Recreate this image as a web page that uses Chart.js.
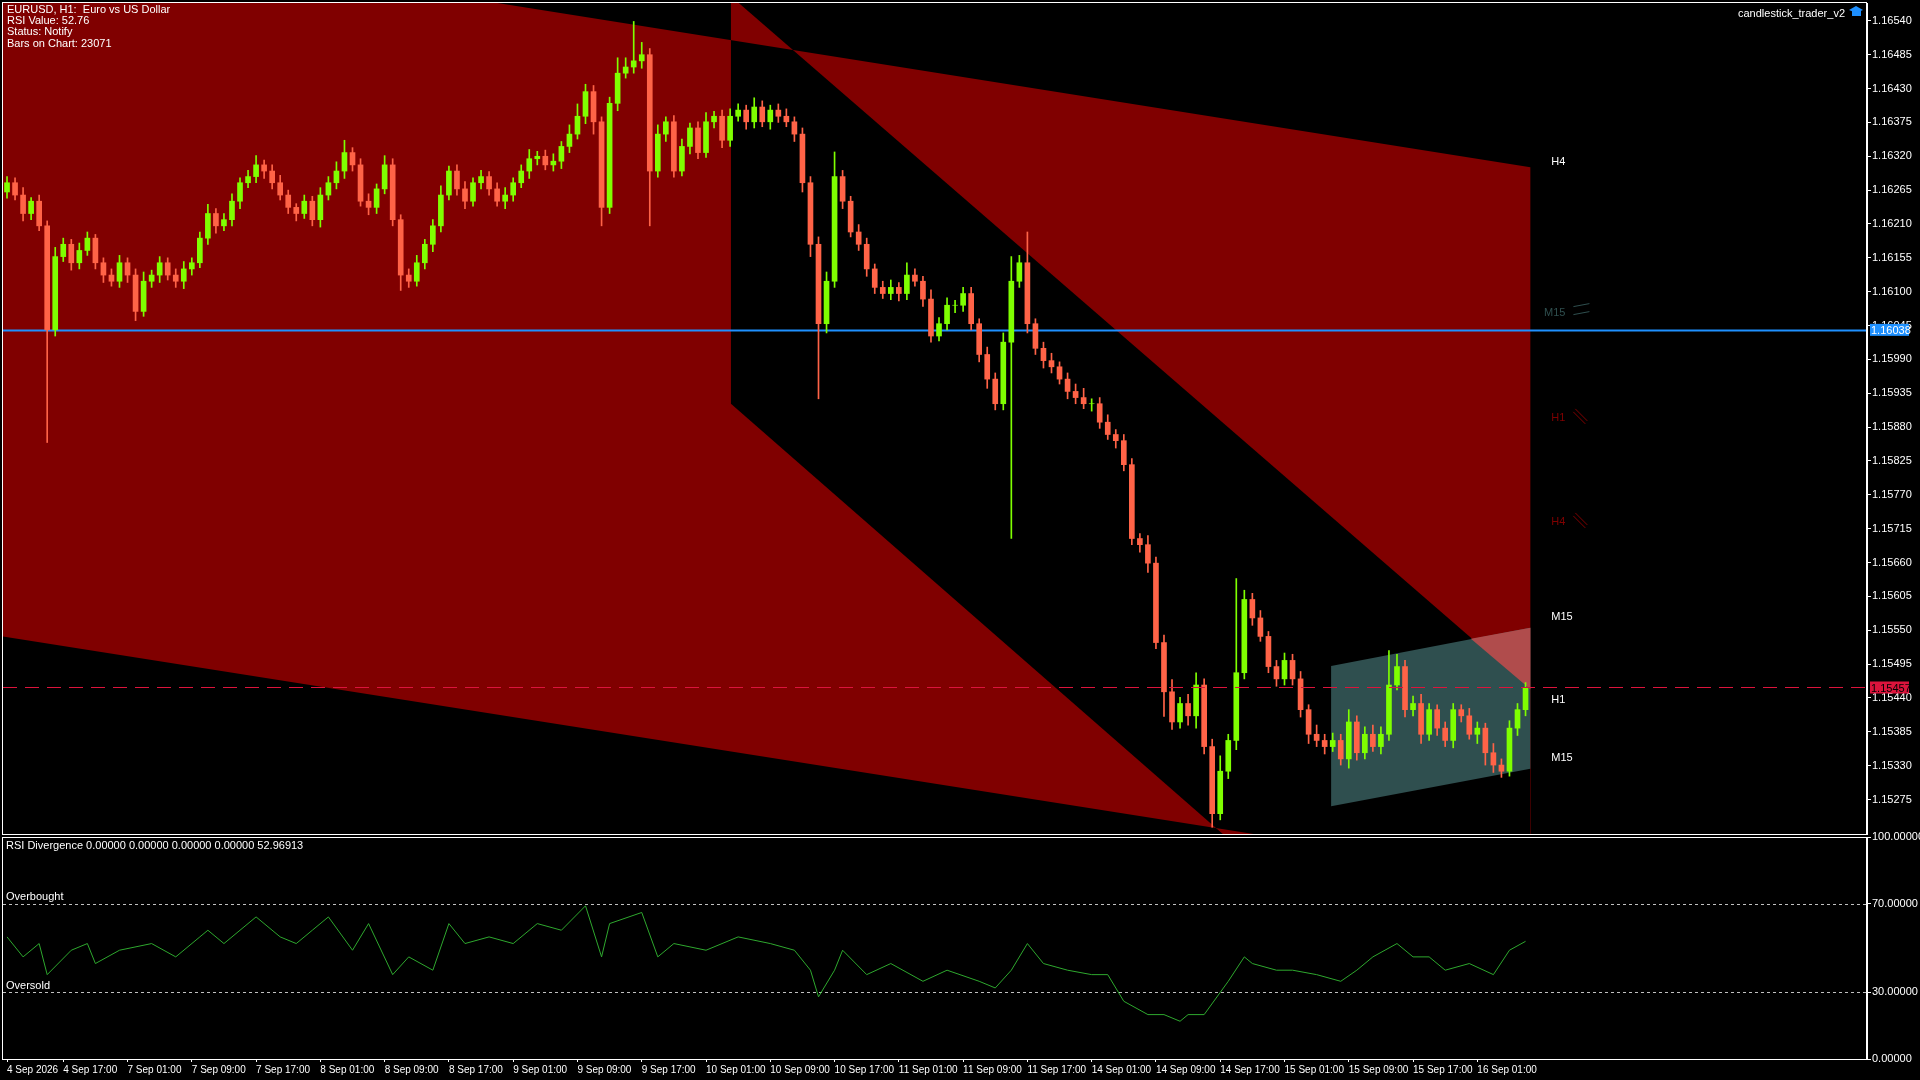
<!DOCTYPE html>
<html>
<head>
<meta charset="utf-8">
<script src="https://cdn.jsdelivr.net/npm/chart.js@4.4.1/dist/chart.umd.min.js"></script>
<style>
  html, body { margin: 0; padding: 0; background: #000; width: 1920px; height: 1080px; overflow: hidden; }
  #mainWrap { position: absolute; left: 0; top: 0; width: 1920px; height: 836px; }
  #rsiWrap { position: absolute; left: 0; top: 830px; width: 1920px; height: 250px; }
</style>
</head>
<body>
<div id="mainWrap"><canvas id="priceChart"></canvas></div>
<div id="rsiWrap"><canvas id="rsiChart"></canvas></div>
<script>
// EURUSD H1 candles, 4 Sep 10:00 -> 16 Sep 07:00
const closes = [
  1.16277,1.16257,1.16227,1.16247,1.16207,1.16038,1.16157,1.16177,1.16147,1.16167,
  1.16187,1.16147,1.16127,1.16117,1.16147,1.16127,1.16068,1.16117,1.16127,1.16147,
  1.16127,1.16117,1.16137,1.16147,1.16187,1.16227,1.16207,1.16217,1.16247,1.16277,
  1.16287,1.16306,1.16296,1.16277,1.16257,1.16237,1.16227,1.16247,1.16217,1.16257,
  1.16277,1.16296,1.16326,1.16306,1.16247,1.16237,1.16267,1.16306,1.16217,1.16127,
  1.16117,1.16147,1.16177,1.16207,1.16257,1.16296,1.16267,1.16247,1.16277,1.16287,
  1.16267,1.16247,1.16257,1.16277,1.16296,1.16316,1.16320,1.16306,1.16312,1.16336,
  1.16356,1.16385,1.16425,1.16376,1.16237,1.16406,1.16455,1.16465,1.16475,1.16485,
  1.16296,1.16356,1.16376,1.16296,1.16336,1.16366,1.16326,1.16376,1.16385,1.16346,
  1.16385,1.16395,1.16376,1.16400,1.16376,1.16395,1.16385,1.16376,1.16356,1.16277,
  1.16177,1.16048,1.16117,1.16287,1.16247,1.16197,1.16177,1.16137,1.16107,1.16097,
  1.16107,1.16097,1.16127,1.16117,1.16088,1.16028,1.16048,1.16078,1.16078,1.16097,
  1.16048,1.15998,1.15958,1.15918,1.16018,1.16117,1.16147,1.16048,1.16008,1.15988,
  1.15978,1.15958,1.15938,1.15928,1.15918,1.15918,1.15888,1.15868,1.15858,1.15819,
  1.15699,1.15689,1.15659,1.15530,1.15450,1.15401,1.15431,1.15411,1.15461,1.15361,
  1.15252,1.15321,1.15371,1.15481,1.15600,1.15570,1.15540,1.15491,1.15471,1.15501,
  1.15471,1.15421,1.15381,1.15371,1.15361,1.15371,1.15341,1.15401,1.15351,1.15381,
  1.15361,1.15381,1.15461,1.15491,1.15421,1.15431,1.15381,1.15421,1.15391,1.15371,
  1.15421,1.15411,1.15381,1.15391,1.15351,1.15331,1.15321,1.15391,1.15421,1.15457
];
const firstOpen = 1.16262;
// upper / lower wick lengths in points
const wickUp = [
  10,8,12,6,10,8,15,10,8,12,10,6,8,10,12,8,10,15,8,10,
  8,10,12,8,10,15,8,10,12,8,10,15,8,10,12,8,6,10,8,12,
  10,15,20,8,10,12,8,15,10,8,10,12,8,10,15,8,10,12,8,10,
  8,10,12,8,10,15,8,10,12,8,15,20,12,10,8,10,25,15,64,20,
  10,15,8,10,12,8,10,15,8,10,12,10,8,15,10,8,10,12,8,10,
  10,12,15,40,10,8,12,10,8,10,12,8,20,10,8,15,10,12,8,10,
  10,8,12,10,15,40,12,50,8,10,12,8,10,12,15,8,10,12,8,10,
  10,8,15,10,12,20,10,15,20,10,12,25,10,153,15,10,12,8,10,12,
  10,12,8,15,10,12,10,20,10,12,15,12,56,20,10,12,15,10,8,10,
  10,8,12,10,8,15,10,12,10,8
];
const wickDn = [
  10,8,12,10,8,183,10,8,12,10,8,10,12,8,10,12,15,8,10,12,
  8,10,12,10,8,10,12,8,10,12,8,10,12,10,8,10,12,8,10,12,
  8,10,12,10,8,12,10,8,10,25,10,8,10,12,10,8,10,12,8,10,
  10,8,12,10,8,12,10,8,10,12,10,8,12,20,30,10,12,8,10,12,
  89,10,12,10,8,12,10,8,10,12,10,8,12,10,8,12,10,8,12,15,
  20,122,15,10,12,8,10,12,10,8,10,12,10,8,12,10,8,10,12,10,
  10,12,15,10,10,319,10,15,10,12,10,8,12,10,8,12,10,8,12,10,
  10,12,15,10,40,12,10,15,20,12,22,10,12,15,10,12,8,10,12,10,
  10,12,15,10,12,8,10,15,12,10,8,12,10,8,12,10,15,10,12,10,
  12,10,8,15,20,12,10,8,12,10
];

const yTickVals = [1.16540,1.16485,1.16430,1.16375,1.16320,1.16265,1.16210,1.16155,1.16100,1.16045,
  1.15990,1.15935,1.15880,1.15825,1.15770,1.15715,1.15660,1.15605,1.15550,1.15495,1.15440,1.15385,1.15330,1.15275];
const timeTickIdx = [0,7,15,23,31,39,47,55,63,71,79,87,95,103,111,119,127,135,143,151,159,167,175,183];
const timeLabels = ['4 Sep 2026','4 Sep 17:00','7 Sep 01:00','7 Sep 09:00','7 Sep 17:00','8 Sep 01:00','8 Sep 09:00',
  '8 Sep 17:00','9 Sep 01:00','9 Sep 09:00','9 Sep 17:00','10 Sep 01:00','10 Sep 09:00','10 Sep 17:00','11 Sep 01:00',
  '11 Sep 09:00','11 Sep 17:00','14 Sep 01:00','14 Sep 09:00','14 Sep 17:00','15 Sep 01:00','15 Sep 09:00','15 Sep 17:00','16 Sep 01:00'];

// RSI (bar index, value)
const rsiIdx = [0,2,4,5,8,10,11,14,18,21,24,25,27,31,34,36,38,40,43,45,48,50,53,55,57,60,63,66,69,72,74,75,79,81,83,87,91,95,98,
  100,101,103,104,107,110,114,117,121,123,125,127,129,132,135,137,139,142,144,146,147,149,152,154,155,158,160,163,166,168,
  170,173,175,177,179,182,185,187,189];
const rsiVal = [55,46,52,38,49,52,43,49,52,46,55,58,52,64,55,52,58,64,49,61,38,46,40,61,52,55,52,61,58,69,46,61,66,46,52,49,55,52,49,
  40,28,40,49,38,43,35,40,35,32,40,52,43,40,38,38,26,20,20,17,20,20,35,46,43,40,40,38,35,40,
  46,52,46,46,40,43,38,49,53];

// channel objects: [index, upper, lower]
const wideChannel = [[-0.6, 1.16697, 1.15540], [189.6, 1.16302, 1.15148]];
const downChannel = [[90.1, 1.16580, 1.15918], [189.6, 1.15454, 1.14782]];
const boxChannel = [[164.8, 1.15492, 1.15264], [189.6, 1.15554, 1.15325]];
const boxOverlap = [[182.2, 1.15536, 1.15536], [189.6, 1.15554, 1.15454]];

const levelLabels = [
  { text: 'H4', idx: 192.2, price: 1.16311, color: '#ffffff', marks: false },
  { text: 'M15', idx: 191.3, price: 1.16066, color: '#2f4f4f', marks: true },
  { text: 'H1', idx: 192.2, price: 1.15895, color: '#800000', marks: true },
  { text: 'H4', idx: 192.2, price: 1.15726, color: '#800000', marks: true },
  { text: 'M15', idx: 192.2, price: 1.15571, color: '#ffffff', marks: false },
  { text: 'H1', idx: 192.2, price: 1.15437, color: '#ffffff', marks: false },
  { text: 'M15', idx: 192.2, price: 1.15343, color: '#ffffff', marks: false }
];
const bidLine = 1.15457;
const blueLine = 1.16038;

const UP = '#7fff00', DOWN = '#ff6347';
const FONT = '"Liberation Sans", Arial, sans-serif';

const opens = closes.map((c, i) => i === 0 ? firstOpen : closes[i - 1]);
const bodies = closes.map((c, i) => [opens[i], c]);
const wicks = closes.map((c, i) => [Math.min(opens[i], c) - wickDn[i] / 1e5, Math.max(opens[i], c) + wickUp[i] / 1e5]);
const colors = closes.map((c, i) => c >= opens[i] ? UP : DOWN);
const slots = Array.from({ length: 232 }, (_, i) => String(i));

function fillChannel(ctx, xs, ys, ch, color) {
  const [a, b] = ch;
  ctx.fillStyle = color;
  ctx.beginPath();
  ctx.moveTo(xs.getPixelForValue(a[0]), ys.getPixelForValue(a[1]));
  ctx.lineTo(xs.getPixelForValue(b[0]), ys.getPixelForValue(b[1]));
  ctx.lineTo(xs.getPixelForValue(b[0]), ys.getPixelForValue(b[2]));
  ctx.lineTo(xs.getPixelForValue(a[0]), ys.getPixelForValue(a[2]));
  ctx.closePath();
  ctx.fill();
}

const noEdgePad = s => { s.paddingTop = 0; s.paddingBottom = 0; };

const overlayPlugin = {
  id: 'overlay',
  beforeDatasetsDraw(chart) {
    const { ctx, chartArea: ca, scales: { x, y } } = chart;
    ctx.save();
    ctx.beginPath();
    ctx.rect(ca.left, ca.top, ca.right - ca.left, ca.bottom - ca.top);
    ctx.clip();
    // the two channels are xor-ed, like the terminal does
    fillChannel(ctx, x, y, wideChannel, '#800000');
    ctx.globalCompositeOperation = 'xor';
    fillChannel(ctx, x, y, downChannel, '#800000');
    ctx.globalCompositeOperation = 'source-over';
    fillChannel(ctx, x, y, boxChannel, '#2f4f4f');
    fillChannel(ctx, x, y, boxOverlap, '#b04c4c');

    let py = Math.round(y.getPixelForValue(blueLine)) + 0.5;
    ctx.strokeStyle = '#1e90ff';
    ctx.lineWidth = 2;
    ctx.beginPath(); ctx.moveTo(ca.left, py); ctx.lineTo(ca.right, py); ctx.stroke();
    ctx.restore();
  },
  afterDatasetsDraw(chart) {
    const { ctx, chartArea: ca, scales: { x, y } } = chart;
    ctx.save();
    let py = Math.round(y.getPixelForValue(bidLine)) + 0.5;
    ctx.strokeStyle = '#dc143c';
    ctx.lineWidth = 1;
    ctx.setLineDash([14, 8]);
    ctx.beginPath(); ctx.moveTo(ca.left, py); ctx.lineTo(ca.right, py); ctx.stroke();
    ctx.setLineDash([]);

    ctx.font = '11px ' + FONT;
    ctx.textBaseline = 'middle';
    levelLabels.forEach(l => {
      const lx = x.getPixelForValue(l.idx), ly = y.getPixelForValue(l.price);
      ctx.fillStyle = l.color;
      ctx.fillText(l.text, lx, ly);
      if (l.marks) {
        const w = ctx.measureText(l.text).width;
        ctx.strokeStyle = l.color;
        ctx.beginPath();
        if (l.text === 'M15') {
          ctx.moveTo(lx + w + 8, ly - 6); ctx.lineTo(lx + w + 24, ly - 9);
          ctx.moveTo(lx + w + 8, ly + 2); ctx.lineTo(lx + w + 24, ly - 1);
        } else {
          ctx.moveTo(lx + w + 8, ly - 6); ctx.lineTo(lx + w + 20, ly + 6);
          ctx.moveTo(lx + w + 10, ly - 9); ctx.lineTo(lx + w + 22, ly + 3);
        }
        ctx.stroke();
      }
    });

    ctx.fillStyle = '#ffffff';
    ['EURUSD, H1:  Euro vs US Dollar', 'RSI Value: 52.76', 'Status: Notify', 'Bars on Chart: 23071']
      .forEach((t, i) => ctx.fillText(t, 7, 10 + i * 11.2));
    ctx.textAlign = 'right';
    ctx.fillText('candlestick_trader_v2', 1845, 14);
    ctx.fillStyle = '#1e90ff';
    ctx.fillRect(1852, 11, 9, 5);
    ctx.beginPath(); ctx.moveTo(1849, 10); ctx.lineTo(1856, 6); ctx.lineTo(1863, 10); ctx.lineTo(1856, 13); ctx.fill();
    ctx.restore();

    ctx.save();
    ctx.strokeStyle = '#ffffff';
    ctx.lineWidth = 1;
    ctx.strokeRect(ca.left - 0.5, ca.top - 0.5, ca.right - ca.left, ca.bottom - ca.top + 1);
    ctx.restore();
  },
  afterDraw(chart) {
    const { ctx, chartArea: ca, scales: { y } } = chart;
    ctx.save();
    ctx.font = '11px ' + FONT;
    ctx.textBaseline = 'middle';
    [[blueLine, '#1e90ff', '#ffffff'], [bidLine, '#dc143c', '#000000']].forEach(([v, bg, fg]) => {
      const py = y.getPixelForValue(v);
      ctx.fillStyle = bg;
      ctx.fillRect(ca.right + 3, py - 6, 39, 12);
      ctx.fillStyle = fg;
      ctx.fillText(v.toFixed(5), ca.right + 4, py + 1);
    });
    ctx.restore();
  }
};

new Chart(document.getElementById('priceChart'), {
  type: 'bar',
  data: {
    labels: slots,
    datasets: [
      { data: bodies, backgroundColor: colors, barThickness: 5, grouped: false, order: 0 },
      { data: wicks, backgroundColor: colors, barThickness: 1, grouped: false, order: 1 }
    ]
  },
  options: {
    responsive: true,
    maintainAspectRatio: false,
    animation: false,
    layout: { padding: { left: 3, top: 3, bottom: 2, right: 0 } },
    plugins: { legend: { display: false }, tooltip: { enabled: false } },
    scales: {
      x: { display: false, offset: true },
      y: {
        position: 'right',
        min: 1.15219, max: 1.16569,
        afterBuildTicks: s => { s.ticks = yTickVals.map(v => ({ value: v })); },
        afterFit: s => { s.width = 53; noEdgePad(s); },
        grid: { drawOnChartArea: false, color: '#ffffff', tickLength: 4 },
        border: { color: '#ffffff' },
        ticks: { color: '#ffffff', padding: 1, font: { family: FONT, size: 11 }, callback: v => Number(v).toFixed(5) }
      }
    }
  },
  plugins: [overlayPlugin]
});

const rsiPlugin = {
  id: 'rsiDecor',
  beforeDatasetsDraw(chart) {
    const { ctx, chartArea: ca, scales: { y } } = chart;
    ctx.save();
    ctx.strokeStyle = '#c0c0c0';
    ctx.setLineDash([3, 3]);
    [70, 30].forEach(v => {
      const py = Math.round(y.getPixelForValue(v)) + 0.5;
      ctx.beginPath(); ctx.moveTo(ca.left, py); ctx.lineTo(ca.right, py); ctx.stroke();
    });
    ctx.setLineDash([]);
    ctx.fillStyle = '#ffffff';
    ctx.font = '11px ' + FONT;
    ctx.textBaseline = 'bottom';
    ctx.fillText('Overbought', 6, y.getPixelForValue(70) - 1);
    ctx.fillText('Oversold', 6, y.getPixelForValue(30) - 1);
    ctx.textBaseline = 'middle';
    ctx.fillText('RSI Divergence 0.00000 0.00000 0.00000 0.00000 52.96913', 6, ca.top + 9);
    ctx.strokeStyle = '#ffffff';
    ctx.strokeRect(ca.left - 0.5, ca.top + 0.5, ca.right - ca.left, ca.bottom - ca.top);
    ctx.restore();
  }
};

new Chart(document.getElementById('rsiChart'), {
  type: 'line',
  data: {
    datasets: [{
      data: rsiIdx.map((x, i) => ({ x, y: rsiVal[i] })),
      borderColor: '#2ea82e', borderWidth: 1, pointRadius: 0, tension: 0
    }]
  },
  options: {
    responsive: true,
    maintainAspectRatio: false,
    animation: false,
    layout: { padding: { left: 3, top: 7, bottom: 0, right: 0 } },
    plugins: { legend: { display: false }, tooltip: { enabled: false } },
    scales: {
      x: {
        type: 'linear', min: -0.5, max: 231.5,
        afterBuildTicks: s => { s.ticks = timeTickIdx.map(v => ({ value: v })); },
        afterFit: s => { s.height = 21; s.paddingLeft = 0; s.paddingRight = 0; },
        grid: { drawOnChartArea: false, color: '#ffffff', tickLength: 3 },
        border: { color: '#ffffff' },
        ticks: {
          color: '#ffffff', autoSkip: false, maxRotation: 0, align: 'start', padding: 2,
          font: { family: FONT, size: 10 },
          callback: (v, i) => timeLabels[i]
        }
      },
      y: {
        position: 'right', min: 0, max: 100,
        afterBuildTicks: s => { s.ticks = [0, 30, 70, 100].map(v => ({ value: v })); },
        afterFit: s => { s.width = 53; noEdgePad(s); },
        grid: { drawOnChartArea: false, color: '#ffffff', tickLength: 4 },
        border: { color: '#ffffff' },
        ticks: { color: '#ffffff', padding: 1, font: { family: FONT, size: 11 }, callback: v => Number(v).toFixed(5) }
      }
    }
  },
  plugins: [rsiPlugin]
});
</script>
</body>
</html>
